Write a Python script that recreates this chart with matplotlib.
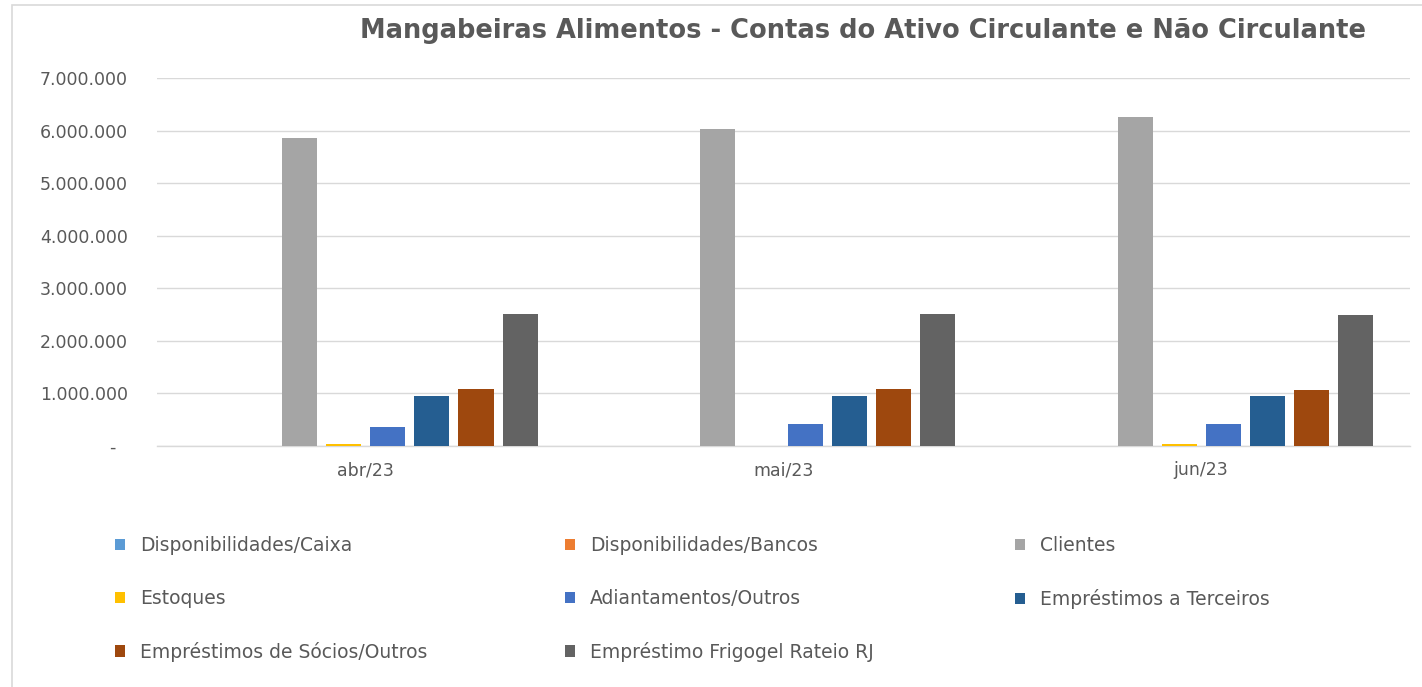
import matplotlib
matplotlib.use("Agg")
import matplotlib.pyplot as plt
from matplotlib.patches import Rectangle
from matplotlib.ticker import FuncFormatter, MultipleLocator
import numpy as np

plt.rcParams['font.family'] = ['DejaVu Sans']

categories = ["abr/23", "mai/23", "jun/23"]
series_names = [
    "Disponibilidades/Caixa",
    "Disponibilidades/Bancos",
    "Clientes",
    "Estoques",
    "Adiantamentos/Outros",
    "Empréstimos a Terceiros",
    "Empréstimos de Sócios/Outros",
    "Empréstimo Frigogel Rateio RJ",
]
caixa = [0, 0, 0]
bancos = [0, 0, 0]
clientes = [5860000, 6030000, 6250000]
estoques = [30000, 0, 30000]
adiantamentos = [370000, 420000, 420000]
terceiros = [960000, 960000, 960000]
socios = [1080000, 1080000, 1060000]
frigogel = [2510000, 2510000, 2490000]
series_values = [caixa, bancos, clientes, estoques, adiantamentos, terceiros, socios, frigogel]
colors = ["#5B9BD5", "#ED7D31", "#A5A5A5", "#FFC000", "#4472C4", "#255E91", "#9E480E", "#636363"]

title = "Mangabeiras Alimentos - Contas do Ativo Circulante e Não Circulante"
txt_color = "#595959"
grid_color = "#D9D9D9"

W, H = 1422, 687
fig = plt.figure(figsize=(W / 100, H / 100), dpi=100)
fig.patch.set_facecolor("white")

# outer chart border
fig.patches.append(Rectangle((12 / W, -0.02), 1.05, 1 - 5 / H + 0.02, transform=fig.transFigure,
                             fill=False, edgecolor=grid_color, linewidth=1.2))

ax_l, ax_r, ax_t, ax_b = 157, 1410, 78, 446
ax = fig.add_axes([ax_l / W, 1 - ax_b / H, (ax_r - ax_l) / W, (ax_b - ax_t) / H])

x = np.arange(len(categories))
slot = 0.1055
bw = 0.084
for i, (vals, c, name) in enumerate(zip(series_values, colors, series_names)):
    ax.bar(x + (i - 3.5) * slot, vals, width=bw, color=c, label=name, zorder=3)

ax.set_xlim(-0.5, 2.5)
ax.set_ylim(0, 7000000)
ax.yaxis.set_major_locator(MultipleLocator(1000000))


def fmt(v, pos):
    if abs(v) < 1:
        return "-  "
    return f"{int(round(v)):,}".replace(",", ".")


ax.yaxis.set_major_formatter(FuncFormatter(fmt))
ax.set_xticks(x)
ax.set_xticklabels(categories)
ax.tick_params(axis="both", length=0, colors=txt_color, labelsize=12.5)
ax.tick_params(axis="y", pad=21)
ax.tick_params(axis="x", pad=11)
ax.grid(axis="y", color=grid_color, linewidth=1, zorder=0)
for s in ["top", "right", "left"]:
    ax.spines[s].set_visible(False)
ax.spines["bottom"].set_color(grid_color)
ax.spines["bottom"].set_linewidth(1)
ax.set_axisbelow(True)

fig.text(360 / W, 1 - 38 / H, title, ha="left", va="baseline",
         fontsize=18.5, fontweight="bold", color=txt_color)

# legend in three columns, row-wise order
cols = [[0, 3, 6], [1, 4, 7], [2, 5]]
col_x = [115, 565, 1015]
row_y = [546, 599, 652]
for ci, idxs in enumerate(cols):
    hs = [Rectangle((0, 0), 1, 1, facecolor=colors[k], edgecolor="none") for k in idxs]
    ls = [series_names[k] for k in idxs]
    yc = np.mean([row_y[r] for r in range(len(idxs))])
    fig.legend(hs, ls, loc="center left", bbox_to_anchor=(col_x[ci] / W, 1 - yc / H),
               frameon=False, fontsize=13.5, handlelength=0.55, handleheight=0.55,
               handletextpad=0.8, labelspacing=1.79, borderpad=0, borderaxespad=0,
               labelcolor=txt_color)

fig.savefig("out.png", dpi=100)
